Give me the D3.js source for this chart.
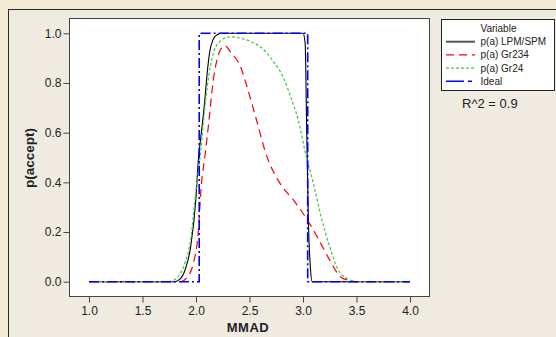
<!DOCTYPE html>
<html>
<head>
<meta charset="utf-8">
<script src="https://cdn.jsdelivr.net/npm/d3@7"></script>
<style>
  body { margin: 0; background: #f3ebd6; }
  svg { display: block; }
  text { font-family: "Liberation Sans", Arial, sans-serif; fill: #222; }
</style>
</head>
<body>
<script>
// series: [MMAD, p(accept)]
var lpmSpm = [[1.0,0],[1.8,0],[1.85,0.01],[1.9,0.05],[1.95,0.14],[2.0,0.34],[2.02,0.48],[2.05,0.6],[2.08,0.72],[2.1,0.82],[2.13,0.93],[2.16,0.975],[2.2,0.995],[2.25,1.0],[3.0,1.0],[3.02,0.96],[3.035,0.6],[3.05,0.25],[3.07,0.05],[3.085,0.0],[4.0,0]];
var gr234 = [[1.0,0],[1.86,0],[1.91,0.014],[1.975,0.074],[2.02,0.195],[2.05,0.39],[2.085,0.51],[2.12,0.644],[2.16,0.805],[2.22,0.926],[2.27,0.95],[2.33,0.92],[2.41,0.872],[2.49,0.765],[2.57,0.644],[2.65,0.52],[2.785,0.396],[2.91,0.329],[3.05,0.242],[3.14,0.175],[3.25,0.087],[3.35,0.02],[3.44,0.004],[3.5,0],[4.0,0]];
var gr24 = [[1.0,0],[1.75,0],[1.8,0.008],[1.85,0.03],[1.9,0.08],[1.95,0.17],[2.0,0.37],[2.05,0.55],[2.08,0.69],[2.12,0.83],[2.15,0.9],[2.22,0.966],[2.32,0.986],[2.4,0.982],[2.5,0.969],[2.6,0.946],[2.66,0.922],[2.72,0.888],[2.82,0.819],[2.89,0.738],[2.96,0.644],[3.02,0.523],[3.1,0.39],[3.17,0.26],[3.25,0.14],[3.33,0.047],[3.44,0.007],[3.5,0],[4.0,0]];
var ideal = [[1.0,0],[2.03,0],[2.03,1],[3.044,1],[3.044,0],[4.0,0]];

var seriesNames = ["p(a) LPM/SPM", "p(a) Gr234", "p(a) Gr24", "Ideal"];
var xTicks = [1.0, 1.5, 2.0, 2.5, 3.0, 3.5, 4.0];
var yTicks = [0.0, 0.2, 0.4, 0.6, 0.8, 1.0];

var W = 556, H = 337;

var svg = d3.select("body").append("svg")
    .attr("width", W)
    .attr("height", H);

// inner panel
svg.append("rect")
    .attr("x", 8.5).attr("y", 9.5)
    .attr("width", W).attr("height", H)
    .attr("fill", "#efebe1")
    .attr("stroke", "#2a2a2a");

// plot frame
var frame = {left: 69.5, top: 18.5, right: 429.5, bottom: 296.5};
svg.append("rect")
    .attr("x", frame.left).attr("y", frame.top)
    .attr("width", frame.right - frame.left)
    .attr("height", frame.bottom - frame.top)
    .attr("fill", "#fff")
    .attr("stroke", "#444");

var x = d3.scaleLinear().domain([1, 4]).range([89, 410]);
var y = d3.scaleLinear().domain([0, 1]).range([281.7, 33.3]);

var xAxis = svg.append("g")
    .attr("transform", "translate(0," + frame.bottom + ")")
    .call(d3.axisBottom(x).tickValues(xTicks).tickFormat(d3.format(".1f")).tickSize(6).tickSizeOuter(0));
var yAxis = svg.append("g")
    .attr("transform", "translate(" + frame.left + ",0)")
    .call(d3.axisLeft(y).tickValues(yTicks).tickFormat(d3.format(".1f")).tickSize(6).tickSizeOuter(0));

[xAxis, yAxis].forEach(function (g) {
    g.select(".domain").remove();
    g.selectAll("line").attr("stroke", "#444");
    g.selectAll("text")
        .attr("font-size", 12)
        .attr("font-family", "Liberation Sans, Arial, sans-serif")
        .attr("fill", "#222");
});
xAxis.selectAll("text").attr("dy", "0.95em").attr("y", 7);
yAxis.selectAll("text").attr("x", -8);

// axis titles
svg.append("text")
    .attr("x", 248).attr("y", 332)
    .attr("text-anchor", "middle")
    .attr("font-size", 13).attr("font-weight", "bold")
    .attr("letter-spacing", 0.5)
    .text("MMAD");
svg.append("text")
    .attr("transform", "translate(34,158) rotate(-90)")
    .attr("text-anchor", "middle")
    .attr("font-size", 13.5).attr("font-weight", "bold")
    .text("p(accept)");

var line = d3.line()
    .x(function (d) { return x(d[0]); })
    .y(function (d) { return y(d[1]); });
var smooth = d3.line()
    .x(function (d) { return x(d[0]); })
    .y(function (d) { return y(d[1]); })
    .curve(d3.curveMonotoneX);

var styles = [
    {data: lpmSpm, color: "#000", dash: null, width: 1.1, gen: smooth, key: "#555", kw: 2},
    {data: gr234, color: "#ff0000", dash: "8,5", width: 1.2, gen: smooth, key: "#ff0000", kw: 1.2},
    {data: gr24, color: "#44c444", dash: "3,2", width: 1.2, gen: smooth, key: "#44c444", kw: 1.2},
    {data: ideal, color: "#0000ff", dash: "10,3,2,3", width: 1.6, gen: line, key: "#0000ff", kw: 1.6}
];

styles.forEach(function (s) {
    svg.append("path")
        .attr("d", s.gen(s.data))
        .attr("fill", "none")
        .attr("stroke", s.color)
        .attr("stroke-width", s.width)
        .attr("stroke-dasharray", s.dash);
});

// legend
var legend = svg.append("g");
legend.append("rect")
    .attr("x", 441.5).attr("y", 19.5)
    .attr("width", 113).attr("height", 71)
    .attr("fill", "#fff")
    .attr("stroke", "#222");
legend.append("text")
    .attr("x", 480.5).attr("y", 31.5)
    .attr("font-size", 10)
    .text("Variable");
seriesNames.forEach(function (name, i) {
    var yy = 41.7 + i * 13.2;
    legend.append("line")
        .attr("x1", 446).attr("x2", 475)
        .attr("y1", yy).attr("y2", yy)
        .attr("stroke", styles[i].key)
        .attr("stroke-width", styles[i].kw)
        .attr("stroke-dasharray", i === 3 ? "18,4,4,4" : styles[i].dash);
    legend.append("text")
        .attr("x", 480.5).attr("y", yy + 3.5)
        .attr("font-size", 10)
        .text(name);
});

svg.append("text")
    .attr("x", 462).attr("y", 108)
    .attr("font-size", 13)
    .text("R^2 = 0.9");
</script>
</body>
</html>
